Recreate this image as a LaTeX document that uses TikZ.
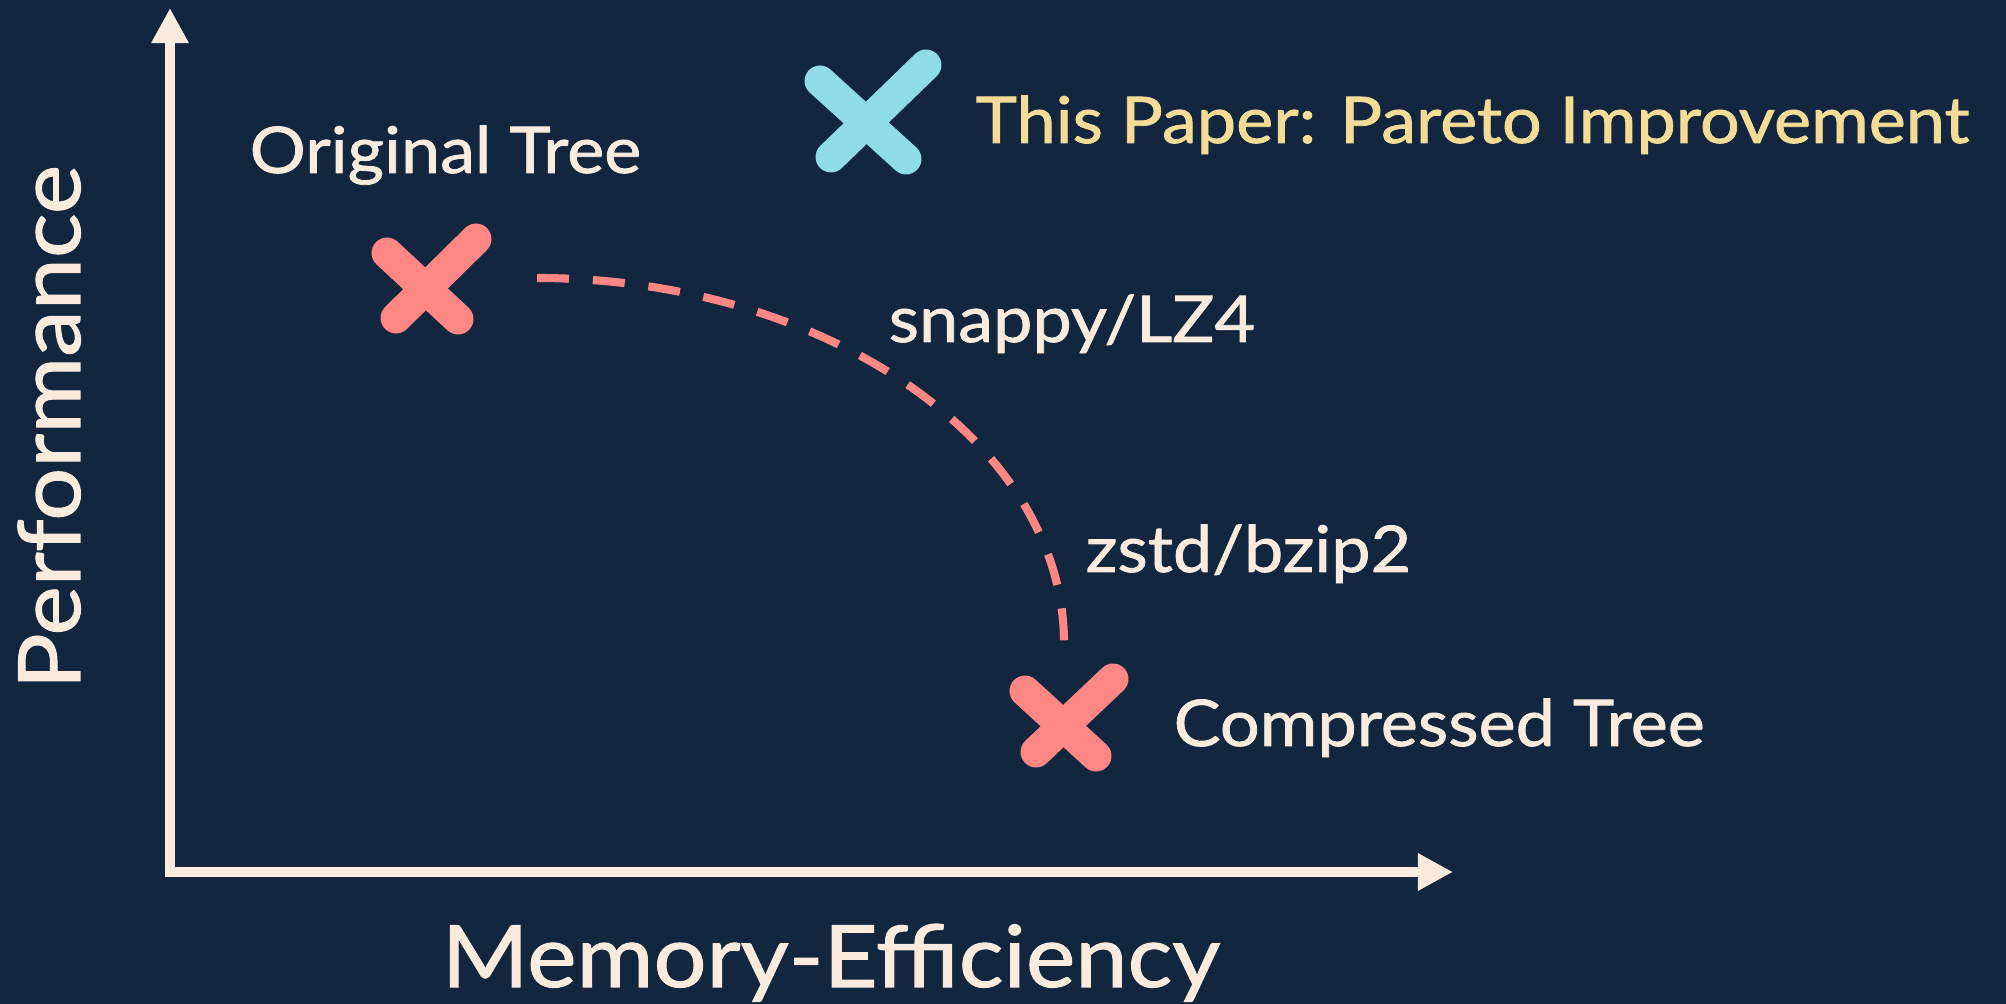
\documentclass[tikz,border=0pt]{standalone}
\usepackage{fontspec}
\setmainfont{Lato}[FakeStretch=1.09,FakeBold=1.2]
\usetikzlibrary{arrows.meta}
\definecolor{bgc}{HTML}{12263F}
\definecolor{cream}{HTML}{FAEBDC}
\definecolor{salmon}{HTML}{FF8783}
\definecolor{cyanx}{HTML}{8FDCE6}
\definecolor{yellowt}{HTML}{F5DC96}
\begin{document}
\begin{tikzpicture}[x=0.01cm,y=-0.01cm,
  lbl/.style={inner sep=0pt, anchor=base west, text=cream, font=\fontsize{18.3pt}{22pt}\selectfont},
  axlbl/.style={inner sep=0pt, anchor=base west, text=cream, font=\fontsize{24.4pt}{29pt}\selectfont},
  axis/.style={draw=cream, line width=3.1pt, {Triangle[length=10pt,width=10pt]}-{Triangle[length=10pt,width=10pt]}},
  xstroke/.style={line width=8.8pt, line cap=round},
  front/.style={draw=salmon, line width=2.3pt, dash pattern=on 9.1pt off 6.8pt}]
\fill[bgc] (0,0) rectangle (2006,1004);
\useasboundingbox (0,0) rectangle (2006,1004);
% axes
\coordinate (ytip) at (170,8);
\coordinate (orig) at (170,872);
\coordinate (xtip) at (1453,872);
\draw[axis] (ytip) -- (orig) -- (xtip);
% crosses
\coordinate (c1ul) at (387,253); \coordinate (c1lr) at (458,319);
\coordinate (c1ll) at (396,318); \coordinate (c1ur) at (476,239);
\draw[xstroke, salmon] (c1ul) -- (c1lr);
\draw[xstroke, salmon] (c1ll) -- (c1ur);
\coordinate (c2ul) at (820,81); \coordinate (c2lr) at (906,159);
\coordinate (c2ll) at (831,157); \coordinate (c2ur) at (926,65);
\draw[xstroke, cyanx] (c2ul) -- (c2lr);
\draw[xstroke, cyanx] (c2ll) -- (c2ur);
\coordinate (c3ul) at (1025,691); \coordinate (c3lr) at (1096,756);
\coordinate (c3ll) at (1036,752); \coordinate (c3ur) at (1113,679);
\draw[xstroke, salmon] (c3ul) -- (c3lr);
\draw[xstroke, salmon] (c3ll) -- (c3ur);
% pareto front
\coordinate (fs) at (537,278);
\coordinate (fe) at (1064,643);
\draw[front] (fs) .. controls (826,278) and (1064,443) .. (fe);
% labels
\node[lbl] (orgt) at (249,173) {Original Tree};
\node[lbl, text=yellowt] (thisp) at (975,143) {This Paper: Pareto Improvement};
\node[lbl] (snap) at (888,342) {snappy/LZ4};
\node[lbl] (zstd) at (1085,572) {zstd/bzip2};
\node[lbl] (comp) at (1173,746) {Compressed Tree};
\node[axlbl] (xl) at (441,987) {Memory-Efficiency};
\node[axlbl, rotate=90] (yl) at (80,690) {Performance};
\end{tikzpicture}
\end{document}
